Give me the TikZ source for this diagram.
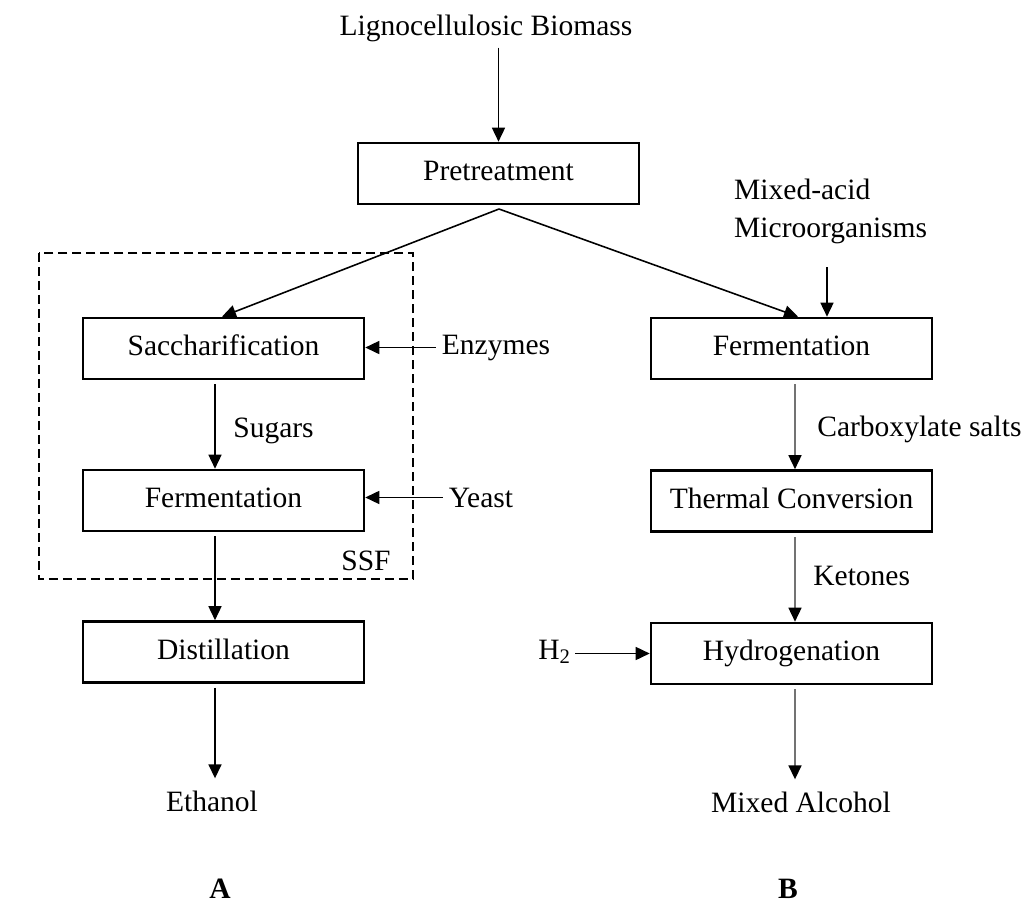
\documentclass[tikz,border=0pt]{standalone}
\usepackage{fontspec}
\setmainfont{Liberation Serif}
\usepackage{tikz}
\usetikzlibrary{calc, arrows.meta}

\tikzset{
	box/.style={draw, line width=1.5pt, minimum width=5.62cm, minimum height=1.22cm, text height=1.75ex, text depth=0pt, inner sep=0pt},
	arr/.style={-{Triangle[length=0.28cm, width=0.26cm]}, line width=0.9pt},
	down/.style={arr, shorten <=0.08cm},
	grayline/.style={draw=black!55, -{Triangle[length=0.28cm, width=0.26cm, color=black]}},
	lbl/.style={inner sep=0pt}
}

\begin{document}
\begin{tikzpicture}[x=0.02cm, y=-0.02cm, font=\fontsize{16.8}{21.6}\selectfont]
			\def\xA{215};
			\def\xB{795};

			\useasboundingbox (0,0) rectangle (1022,903);

			% process boxes
			\node[box] (pre) at (498.5,173.5) {Pretreatment};
			\node[box] (sac) at (223.5,348.5) {Saccharification};
			\node[box] (ferL) at (223.5,500.5) {Fermentation};
			\node[box] (dist) at (223.5,652) {Distillation};
			\node[box] (ferR) at (791.5,348.5) {Fermentation};
			\node[box] (therm) at (791.5,501) {Thermal Conversion};
			\node[box] (hyd) at (791.5,653.5) {Hydrogenation};

			% inputs, products and labels
			\node (bio) [anchor=base] at (486,35) {Lignocellulosic Biomass};
			\node (mix) [anchor=north west, align=left] at (728,173) {Mixed-acid\\Microorganisms};
			\node (enz) [anchor=base] at (496,354) {Enzymes};
			\node (yst) [anchor=base] at (481,507) {Yeast};
			\node (sug) [lbl, anchor=base west] at (233,437) {Sugars};
			\node (ssf) [lbl, anchor=base east] at (391,570) {SSF};
			\node (carb) [lbl, anchor=base west] at (817,436) {Carboxylate salts};
			\node (ket) [lbl, anchor=base west] at (813,585) {Ketones};
			\node (h2) [lbl, anchor=base west] at (538,659) {H\textsubscript{2}};
			\node (eth) [anchor=base] at (212,811) {Ethanol};
			\node (alc) [anchor=base] at (801,812) {Mixed Alcohol};
			\node (lblA) [anchor=base, font=\fontsize{16.8}{21.6}\selectfont\bfseries] at (220,898) {A};
			\node (lblB) [anchor=base, font=\fontsize{16.8}{21.6}\selectfont\bfseries] at (788,898) {B};

			\coordinate (colA) at (\xA,0);
			\coordinate (colB) at (\xB,0);
			\coordinate (fork) at (499,209);
			\coordinate (micin) at (827,267);

			% SSF region
			\draw[dash pattern=on 0.18cm off 0.1cm, line width=0.7pt] (39,253) rectangle (413,579);

			\draw[arr] (pre.north |- bio.south) -- (pre.north);
			\draw[arr] (fork) -- ($(sac.north)+(-1.5,0)$);
			\draw[arr] (fork) -- ($(ferR.north)+(6.5,0)$);
			\draw[arr] (micin) -- (micin |- ferR.north);

			\draw[arr] (enz.west) -- (enz.west -| sac.east);
			\draw[arr] (yst.west) -- (yst.west -| ferL.east);
			\draw[arr, shorten <=0.08cm] (h2.east |- hyd.west) -- (hyd.west);

			\draw[down] (sac.south -| colA) -- (ferL.north -| colA);
			\draw[down] (ferL.south -| colA) -- (dist.north -| colA);
			\draw[down, shorten >=0.12cm] (dist.south -| colA) -- (eth.north -| colA);

			\draw[down, grayline] (ferR.south -| colB) -- (therm.north -| colB);
			\draw[down, grayline] (therm.south -| colB) -- (hyd.north -| colB);
			\draw[down, grayline, shorten >=0.12cm] (hyd.south -| colB) -- (alc.north -| colB);
		\end{tikzpicture}
\end{document}
